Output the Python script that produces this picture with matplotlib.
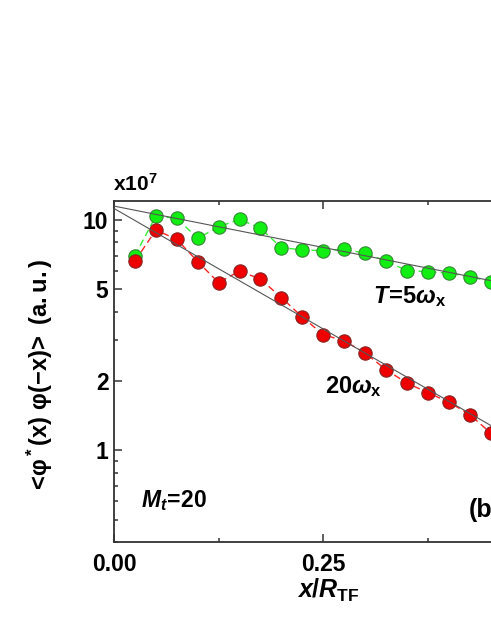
import numpy as np
import matplotlib
matplotlib.use('Agg')
import matplotlib.pyplot as plt

plt.rcParams['font.family'] = ['Liberation Sans', 'DejaVu Sans']
plt.rcParams['font.weight'] = 'bold'
plt.rcParams['mathtext.fontset'] = 'custom'
plt.rcParams['mathtext.rm'] = 'Liberation Sans:bold'
plt.rcParams['mathtext.it'] = 'Liberation Sans:italic:bold'
plt.rcParams['mathtext.bf'] = 'Liberation Sans:bold'

# valores (unidades de 1e7)
x = [0.025, 0.05, 0.075, 0.1, 0.125, 0.15, 0.175, 0.2, 0.225, 0.25,
     0.275, 0.3, 0.325, 0.35, 0.375, 0.4, 0.425, 0.45]
g_T5 = [7.01, 10.41, 10.17, 8.33, 9.35, 10.07, 9.21, 7.59, 7.42, 7.36,
        7.49, 7.17, 6.64, 6.03, 5.97, 5.88, 5.68, 5.41]
g_T20 = [6.64, 9.05, 8.25, 6.60, 5.35, 6.01, 5.54, 4.61, 3.79, 3.18,
         2.99, 2.65, 2.24, 1.96, 1.78, 1.62, 1.43, 1.19]

# ajustes exponenciais A*exp(-k x)
fit_T5 = (11.5, 1.655)
fit_T20 = (11.23, 4.82)

yticks = [1, 2, 5, 10]
yminor = [0.4, 0.5, 0.6, 0.7, 0.8, 0.9, 3, 4, 6, 7, 8, 9]
xticks = [0.0, 0.25, 0.5]
xminor = [0.125, 0.375]

fig = plt.figure(figsize=(4.91, 6.35), dpi=100)
ax = fig.add_axes([114/491, 1 - 542/635, 0.5*837/491, (542 - 201)/635])

ax.plot(x, g_T5, ls=(0, (5, 3)), color='#33ee33', lw=1, zorder=2)
ax.plot(x, g_T20, ls=(0, (5, 3)), color='#ff2222', lw=1, zorder=2)
ax.plot(x, g_T5, 'o', ms=9.6, mfc='#11ee11', mec='#338833', mew=0.8, zorder=3)
ax.plot(x, g_T20, 'o', ms=9.6, mfc='#ee0000', mec='#882222', mew=0.8, zorder=3)

xf = np.linspace(0, 0.5, 50)
for A, k in [fit_T5, fit_T20]:
    ax.plot(xf, A*np.exp(-k*xf), color='#555555', lw=0.8, zorder=4)

ax.set_yscale('log')
ax.set_xlim(0, 0.5)
ax.set_ylim(0.4, 12.1)
ax.set_yticks(yticks)
ax.set_yticklabels([str(v) for v in yticks])
ax.set_yticks(yminor, minor=True)
ax.set_yticklabels([], minor=True)
ax.set_xticks(xticks)
ax.set_xticklabels(['0.00', '0.25', ''])  # 0.50 fica fora da imagem
ax.set_xticks(xminor, minor=True)

for s in ax.spines.values():
    s.set_color('#333333')
    s.set_linewidth(1.3)
ax.tick_params(which='both', direction='in', top=True, right=True, color='#333333', width=1.1)
ax.tick_params(which='major', length=6, labelsize=16.5, pad=4)
ax.tick_params(which='minor', length=3)
ax.tick_params(axis='x', which='major', pad=8)

ax.text(0.309, 4.37, r'$\mathit{T}\!=\!\mathrm{5}\mathit{ω}_\mathrm{x}$', fontsize=17, va='baseline')
ax.text(0.252, 1.78, r'$\mathrm{20}\mathit{ω}_\mathrm{x}$', fontsize=17, va='baseline')
ax.text(0.032, 0.568, r'$\mathit{M}_\mathit{t}\!=\!\mathrm{20}$', fontsize=16.5, va='baseline')
ax.text(0.424, 0.513, '(b)', fontsize=18, va='baseline')

fig.text(113/491, 1 - 191/635, r'$\mathrm{x10}^\mathrm{7}$', fontsize=15, va='baseline')
fig.text(328.5/491, 1 - 598/635, r'$\mathit{x}\mathrm{/}\mathit{R}_\mathrm{TF}$', fontsize=18,
         ha='center', va='baseline')
fig.text(40/491, 1 - 376/635, r'$<\!\mathrm{φ^*(x)\ φ(-x)}\!>\mathrm{\ (a.u.)}$', fontsize=17,
         rotation=90, ha='center', va='center')

plt.savefig('out.png', dpi=100)
